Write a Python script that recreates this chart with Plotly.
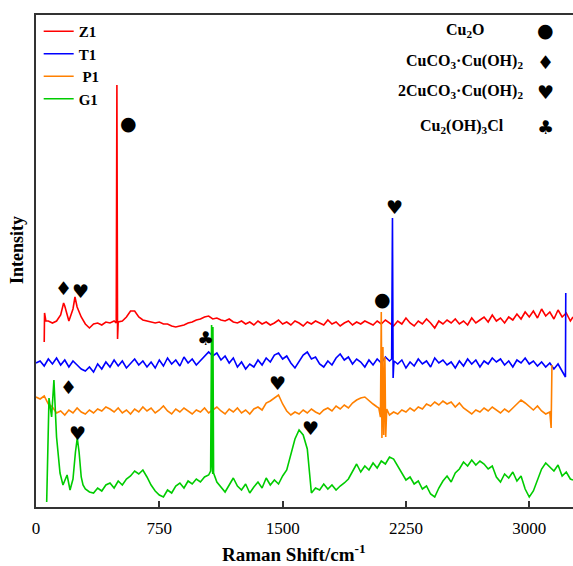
import plotly.graph_objects as go

# ---------------------------------------------------------------------------
# Raman spectra (stacked, arbitrary intensity units)
# Each spectrum: a regular baseline grid (start, step 25 cm-1) plus extra
# points for narrow bands / spikes.
# ---------------------------------------------------------------------------
STEP = 25

z1_start = 75
z1_grid = [186, 184, 186, 192, 201, 186, 198, 200, 190, 183,
           179, 183, 184, 182, 185, 184, 186, 185, 186, 190,
           196, 196, 190, 187, 186, 185, 184, 185, 183, 183,
           181, 180, 181, 182, 184, 185, 187, 188, 190, 191,
           188, 189, 187, 186, 188, 185, 184, 186, 183, 185,
           182, 186, 183, 185, 182, 184, 187, 183, 185, 182,
           186, 184, 181, 185, 183, 186, 184, 182, 187, 183,
           185, 181, 184, 186, 182, 185, 183, 186, 184, 182,
           186, 183, 187, 184, 181, 186, 183, 189, 184, 181,
           186, 183, 188, 184, 179, 186, 183, 187, 184, 188,
           183, 186, 182, 189, 184, 187, 190, 185, 192, 186,
           189, 184, 190, 187, 193, 188, 195, 190, 196, 189,
           198, 191, 195, 188, 197, 190, 194, 186]
z1_peaks_x = [50, 52, 60, 168, 237, 488, 492, 496, 3266]
z1_peaks_y = [165, 194, 186, 204, 210, 184, 422, 168, 190]

t1_start = 0
t1_grid = [144, 146, 141, 148, 143, 149, 142, 147, 140, 146,
           142, 138, 136, 140, 135, 143, 138, 145, 140, 147,
           141, 146, 139, 144, 148, 142, 146, 140, 145, 139,
           147, 141, 149, 143, 147, 141, 150, 144, 148, 142,
           146, 150, 155, 151, 154, 147, 151, 144, 149, 140,
           145, 138, 143, 140, 147, 142, 149, 145, 152, 154,
           148, 151, 144, 139, 146, 152, 155, 148, 150, 143,
           140, 146, 142, 149, 153, 147, 150, 143, 148, 145,
           140, 147, 142, 148, 144, 150, 146, 140, 143, 147,
           139, 145, 141, 148, 143, 146, 140, 149, 144, 147,
           142, 145, 139, 146, 141, 148, 143, 147, 140, 146,
           143, 149, 145, 148, 142, 146, 140, 147, 144, 149,
           143, 146, 141, 145, 140, 144, 138, 143, 136]
t1_peaks_x = [2163, 2168, 2172, 2178, 3212, 3220, 3222]
t1_peaks_y = [148, 289, 129, 146, 133, 130, 214]

p1_start = 0
p1_grid = [110, 108, 111, 103, 100, 94, 96, 92, 97, 94,
           99, 95, 93, 97, 94, 98, 96, 100, 98, 95,
           99, 94, 97, 93, 98, 95, 100, 96, 99, 94,
           97, 101, 96, 93, 98, 95, 99, 96, 93, 97,
           95, 99, 94, 97, 100, 96, 93, 98, 95, 99,
           94, 97, 93, 98, 100, 97, 104, 106, 109, 112,
           103, 96, 92, 95, 93, 97, 94, 98, 95, 93,
           97, 99, 96, 101, 98, 102, 99, 104, 107, 109,
           110, 106, 103, 100]
p1_peaks_x = [2085, 2095, 2100, 2104, 2110, 2115, 2122, 2127, 2133,
              2150, 2175, 2200, 2225, 2250, 2275, 2300, 2325, 2350, 2375,
              2400, 2425, 2450, 2475, 2500, 2525, 2550, 2575, 2600, 2625,
              2650, 2675, 2700, 2725, 2750, 2775, 2800, 2825, 2850, 2875,
              2900, 2925, 2950, 2975, 3000, 3025, 3050, 3075, 3100, 3125,
              3133, 3138]
p1_peaks_y = [99, 90, 195, 69, 160, 72, 150, 70, 98,
              92, 95, 93, 97, 95, 99, 96, 100, 98, 103,
              101, 105, 102, 106, 103, 105, 100, 104, 99, 96,
              93, 97, 95, 99, 96, 100, 97, 94, 98, 95,
              99, 103, 107, 104, 100, 97, 101, 96, 93, 95,
              79, 142]

g1_start = 300
g1_grid = [18, 15, 14, 19, 16, 22, 24, 19, 26, 22,
           28, 31, 36, 33, 37, 30, 22, 16, 12, 10,
           17, 14, 21, 24, 19, 26, 23, 28, 25, 30,
           32, 33, 25, 20, 15, 22, 29, 21, 17, 23,
           14, 20, 25, 19, 29, 22, 27, 23, 31, 37,
           52, 68, 77, 72, 58, 14, 19, 17, 23, 18,
           22, 17, 21, 24, 28, 36, 43, 35, 41, 37,
           44, 39, 46, 43, 50, 48, 41, 33, 27, 30,
           23, 26, 18, 21, 13, 10, 19, 26, 31, 25,
           34, 38, 45, 41, 47, 42, 46, 43, 38, 41,
           30, 25, 33, 29, 35, 26, 31, 18, 10, 16,
           27, 38, 44, 40, 36, 42, 31, 35, 28]
g1_peaks_x = [65, 79, 95, 109, 125, 146, 164, 176, 189, 207, 225, 240,
              251, 262, 275, 286, 1062, 1068, 1072, 1076, 1080, 1666, 3266]
g1_peaks_y = [5, 109, 90, 127, 70, 34, 22, 26, 32, 17, 28, 55,
              69, 55, 30, 22, 36, 182, 40, 180, 34, 34, 27]

series = [
    ("Z1", "#ff0000", z1_start, z1_grid, z1_peaks_x, z1_peaks_y),
    ("T1", "#0000ff", t1_start, t1_grid, t1_peaks_x, t1_peaks_y),
    ("\u00a0P1", "#ff8000", p1_start, p1_grid, p1_peaks_x, p1_peaks_y),
    ("G1", "#00cc00", g1_start, g1_grid, g1_peaks_x, g1_peaks_y),
]

# Band assignments: (Raman shift, intensity, symbol)
band_marks = [
    (560, 384, "\u25cf"),    # Cu2O
    (166, 219, "\u2666"),    # CuCO3·Cu(OH)2
    (272, 216, "\u2665"),    # 2CuCO3·Cu(OH)2
    (2183, 300, "\u2665"),
    (2106, 208, "\u25cf"),
    (1028, 169, "\u2663"),   # Cu2(OH)3Cl
    (196, 120, "\u2666"),
    (251, 74, "\u2665"),
    (1466, 124, "\u2665"),
    (1671, 79, "\u2665"),
]

phases = [
    ("Cu<sub>2</sub>O", "\u25cf"),
    ("CuCO<sub>3</sub>·Cu(OH)<sub>2</sub>", "\u2666"),
    ("2CuCO<sub>3</sub>·Cu(OH)<sub>2</sub>", "\u2665"),
    ("Cu<sub>2</sub>(OH)<sub>3</sub>Cl", "\u2663"),
]

x_ticks = [0, 750, 1500, 2250, 3000]

SERIF = "Liberation Serif, Times New Roman, serif"
SYM = "DejaVu Sans"

fig = go.Figure()
for name, color, start, grid, px, py in series:
    pts = [(start + i * STEP, v) for i, v in enumerate(grid)]
    pts += list(zip(px, py))
    pts.sort(key=lambda p: p[0])
    fig.add_trace(go.Scatter(
        x=[p[0] for p in pts], y=[p[1] for p in pts], mode="lines",
        name="<b>" + name + "</b>", line=dict(color=color, width=1.6),
    ))

for bx, by, sym in band_marks:
    fig.add_annotation(x=bx, y=by, text=sym, showarrow=False,
                       font=dict(family=SYM, size=19, color="black"))

# phase key (top right)
key_y = [0.969, 0.9045, 0.8435, 0.7724]
key_x = [0.8007, 0.9106, 0.9106, 0.793]
key_anchor = ["center", "right", "right", "center"]
for (label, sym), ky, kx, ka in zip(phases, key_y, key_x, key_anchor):
    fig.add_annotation(xref="paper", yref="paper", x=kx, y=ky, text="<b>" + label + "</b>",
                       xanchor=ka, yanchor="middle", showarrow=False,
                       font=dict(family=SERIF, size=16, color="black"))
    fig.add_annotation(xref="paper", yref="paper", x=0.9479, y=ky, text=sym,
                       xanchor="center", yanchor="middle", showarrow=False,
                       font=dict(family=SYM, size=19, color="black"))

fig.add_annotation(xref="paper", yref="paper", x=-0.0354, y=0.5224,
                   text="<b>Intensity</b>", textangle=-90, showarrow=False,
                   xanchor="center", yanchor="middle",
                   font=dict(family=SERIF, size=18, color="black"))
fig.add_annotation(xref="paper", yref="paper", x=0.4804, y=-0.093,
                   text="<b>Raman Shift/cm<sup>-1</sup></b>", showarrow=False,
                   xanchor="center", yanchor="middle",
                   font=dict(family=SERIF, size=19, color="black"))

fig.update_layout(
    width=573, height=566,
    margin=dict(l=36, r=0, t=15, b=59),
    plot_bgcolor="white", paper_bgcolor="white",
    showlegend=True,
    legend=dict(x=0.005, y=1.0, xanchor="left", yanchor="top",
                bgcolor="rgba(0,0,0,0)", itemwidth=30,
                font=dict(family=SERIF, size=15, color="black"),
                tracegroupgap=0),
    xaxis=dict(range=[0, 3266], tickvals=x_ticks, ticks="inside", ticklen=6,
               tickwidth=1.5, tickcolor="#333", showline=True, linewidth=2,
               linecolor="#333", mirror=True, showgrid=False, zeroline=False,
               ticklabelstandoff=5,
               tickfont=dict(family=SERIF, size=17, color="black")),
    yaxis=dict(range=[0, 492], showticklabels=False, ticks="", showline=True,
               linewidth=2, linecolor="#333", showgrid=False, zeroline=False),
)

fig.write_html("out.html")
